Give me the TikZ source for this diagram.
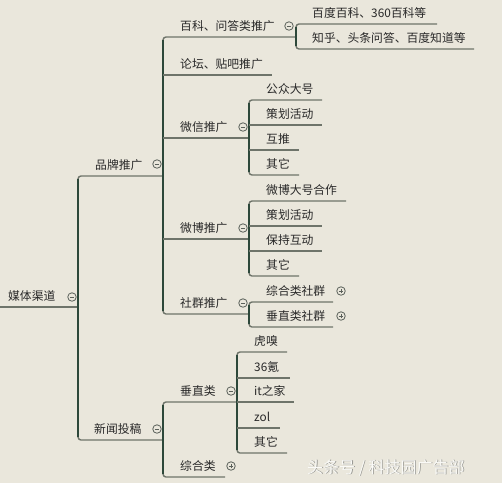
\documentclass[tikz,border=0pt]{standalone}
\usepackage{fontspec}
\newfontfamily\cjk{Noto Sans CJK SC}
\definecolor{bg}{RGB}{234,231,220}
\definecolor{lnc}{RGB}{110,116,106}
\definecolor{vlc}{RGB}{45,72,58}
\definecolor{tx}{RGB}{40,40,40}
\definecolor{tog}{RGB}{90,96,90}
\definecolor{wmshadow}{RGB}{150,150,145}
\definecolor{wmtext}{RGB}{250,250,247}
% name, textx, underline y, text, start x, end x
\newcommand{\mm}[6]{%
  \node[txt] (#1) at (#2,#3-6.5) {#4};
  \coordinate (#1-s) at (#5,#3);
  \coordinate (#1-e) at (#6,#3);
}
\newcommand{\minusc}[3]{%
  \node[togc] (#1) at (#2,#3) {};
  \draw[togl] ([xshift=-2.2pt]#1.center) -- ([xshift=2.2pt]#1.center);
}
\newcommand{\plusc}[3]{%
  \node[togc] (#1) at (#2,#3) {};
  \draw[togl] ([xshift=-2.2pt]#1.center) -- ([xshift=2.2pt]#1.center);
  \draw[togl] ([yshift=-2.2pt]#1.center) -- ([yshift=2.2pt]#1.center);
}
% bracket: first child, last child
\newcommand{\bracket}[2]{%
  \draw[br] (#1-e) -- (#1-s) -- (#2-s) -- (#2-e);
  \draw[vl] ([yshift=-3pt]#1-s) -- ([yshift=3pt]#2-s);
}
\begin{document}
\begin{tikzpicture}[x=1pt,y=-1pt,
  txt/.style={anchor=base west, inner sep=0pt, font=\cjk\fontsize{11.8}{14}\selectfont, text=tx},
  ln/.style={draw=lnc, line width=1.4pt},
  br/.style={draw=lnc, line width=1.4pt, rounded corners=3pt},
  vl/.style={draw=vlc, line width=1.4pt},
  togc/.style={circle, draw=tog, line width=0.8pt, fill=bg, minimum size=8.5pt, inner sep=0pt},
  togl/.style={draw=tog, line width=0.7pt}]
\fill[bg] (0,0) rectangle (502,483);
\useasboundingbox (0,0) rectangle (502,483);

% root
\mm{root}{8}{307}{媒体渠道}{0}{78}
\minusc{root-c}{72}{297}
% level 1
\mm{pp}{95}{176}{品牌推广}{78}{163}
\minusc{pp-c}{157}{164}
\mm{xw}{94}{440}{新闻投稿}{78}{163}
\minusc{xw-c}{157}{429}
% under 品牌推广
\mm{bk}{180}{37}{百科、问答类推广}{163}{296}
\minusc{bk-c}{289}{26}
\mm{lt}{180}{75}{论坛、贴吧推广}{163}{272}
\mm{wx}{180}{138}{微信推广}{163}{249}
\minusc{wx-c}{243}{127}
\mm{wb}{180}{239}{微博推广}{163}{249}
\minusc{wb-c}{243}{228}
\mm{sq}{180}{314}{社群推广}{163}{249}
\minusc{sq-c}{243}{303}
% under 百科
\mm{bk1}{312}{24}{百度百科、360百科等}{296}{437}
\mm{bk2}{312}{49}{知乎、头条问答、百度知道等}{296}{474}
% under 微信
\mm{wx1}{266}{100}{公众大号}{249}{322}
\mm{wx2}{266}{125}{策划活动}{249}{322}
\mm{wx3}{266}{150}{互推}{249}{299}
\mm{wx4}{266}{175}{其它}{249}{299}
% under 微博
\mm{wb1}{266}{201}{微博大号合作}{249}{346}
\mm{wb2}{266}{226}{策划活动}{249}{322}
\mm{wb3}{266}{251}{保持互动}{249}{322}
\mm{wb4}{266}{276}{其它}{249}{299}
% under 社群
\mm{sq1}{266}{302}{综合类社群}{249}{333}
\plusc{sq1-c}{341}{291}
\mm{sq2}{266}{327}{垂直类社群}{249}{333}
\plusc{sq2-c}{341}{316}
% under 新闻投稿
\mm{cz}{180}{402}{垂直类}{163}{237}
\minusc{cz-c}{231}{391}
\mm{zh}{180}{477}{综合类}{163}{225}
\plusc{zh-c}{231}{466}
% under 垂直类
\mm{cz1}{254}{352}{虎嗅}{237}{287}
\mm{cz2}{254}{378}{36氪}{237}{290}
\mm{cz3}{254}{402}{it之家}{237}{294}
\mm{cz4}{254}{428}{zol}{237}{280}
\mm{cz5}{254}{453}{其它}{237}{287}

% connectors
\draw[ln] (root-s) -- (root-e);
\bracket{pp}{xw}
\bracket{bk}{sq}
\draw[ln] (lt-s) -- (lt-e);
\draw[ln] (wx-s) -- (wx-e);
\draw[ln] (wb-s) -- (wb-e);
\bracket{bk1}{bk2}
\bracket{wx1}{wx4}
\draw[ln] (wx2-s) -- (wx2-e);
\draw[ln] (wx3-s) -- (wx3-e);
\bracket{wb1}{wb4}
\draw[ln] (wb2-s) -- (wb2-e);
\draw[ln] (wb3-s) -- (wb3-e);
\bracket{sq1}{sq2}
\bracket{cz}{zh}
\bracket{cz1}{cz5}
\draw[ln] (cz2-s) -- (cz2-e);
\draw[ln] (cz3-s) -- (cz3-e);
\draw[ln] (cz4-s) -- (cz4-e);

% watermark
\node[anchor=base west, inner sep=0pt, font=\cjk\fontsize{16}{18}\selectfont, text=wmshadow] (wm0) at (307.8,473.8) {头条号 / 科技园广告部};
\node[anchor=base west, inner sep=0pt, font=\cjk\fontsize{16}{18}\selectfont, text=wmtext] (wm) at (307,473) {头条号 / 科技园广告部};
\end{tikzpicture}
\end{document}
